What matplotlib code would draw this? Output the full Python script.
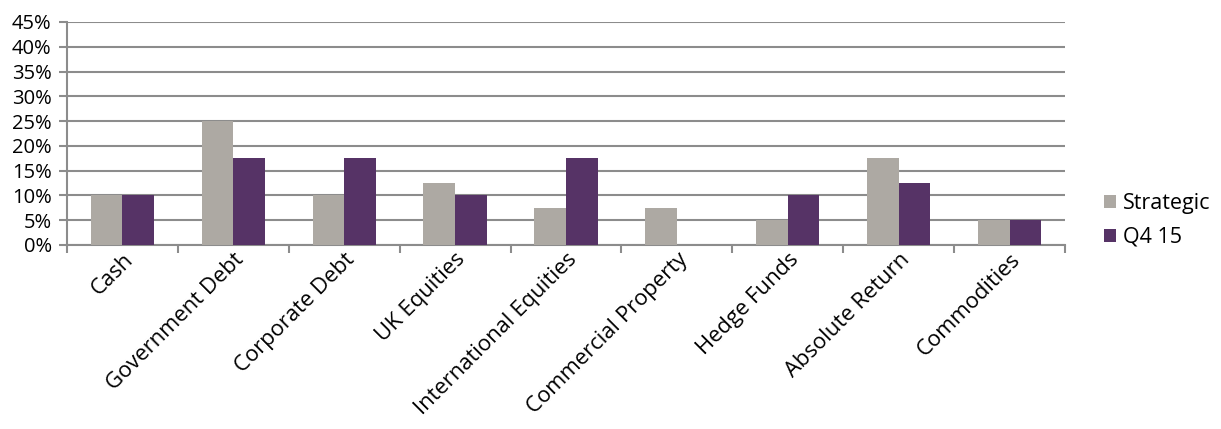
import matplotlib
matplotlib.use("Agg")
import matplotlib.pyplot as plt
import numpy as np

categories = ["Cash", "Government Debt", "Corporate Debt", "UK Equities",
              "International Equities", "Commercial Property", "Hedge Funds",
              "Absolute Return", "Commodities"]
strategic = [10, 25, 10, 12.5, 7.5, 7.5, 5, 17.5, 5]
q4_15 = [10, 17.5, 17.5, 10, 17.5, 0, 10, 12.5, 5]
yticks = [0, 5, 10, 15, 20, 25, 30, 35, 40, 45]

plt.rcParams['font.family'] = ['Open Sans', 'DejaVu Sans']
fig = plt.figure(figsize=(12.21, 4.29), dpi=100)
ax = fig.add_axes([67/1221, 1-245/429, (1065-67)/1221, (245-22)/429])

x = np.arange(len(categories))
w = 1/3.5
gray = "#ADA9A3"
purple = "#563366"
ax.bar(x - w/2, strategic, w, color=gray, label="Strategic", zorder=3)
ax.bar(x + w/2, q4_15, w, color=purple, label="Q4 15", zorder=3)

ax.set_xlim(-0.5, len(categories) - 0.5)
ax.set_ylim(0, 45)
ax.set_yticks(yticks)
ax.set_yticklabels([f"{v}%" for v in yticks], fontsize=14.5)
ax.yaxis.grid(True, color="#8c8c8c", linewidth=1.5, zorder=0)
ax.tick_params(axis='y', length=6, width=1.5, color="#8c8c8c", pad=5)

ax.set_xticks(x)
ax.set_xticklabels(categories, rotation=45, ha='right', rotation_mode='anchor', fontsize=15.8)
ax.set_xticks(np.arange(len(categories) + 1) - 0.5, minor=True)
ax.tick_params(axis='x', which='major', length=0, pad=3)
ax.tick_params(axis='x', which='minor', length=6, width=1.5, color="#8c8c8c")

for s in ['top', 'right']:
    ax.spines[s].set_visible(False)
for s in ['left', 'bottom']:
    ax.spines[s].set_color("#8c8c8c")
    ax.spines[s].set_linewidth(1.5)

leg = ax.legend(loc='center left', bbox_to_anchor=(1.03, 0.11), frameon=False,
                fontsize=15.5, handlelength=0.6, handleheight=0.6, handletextpad=0.3,
                labelspacing=0.6, borderaxespad=0)
fig.savefig("out.png", dpi=100)
